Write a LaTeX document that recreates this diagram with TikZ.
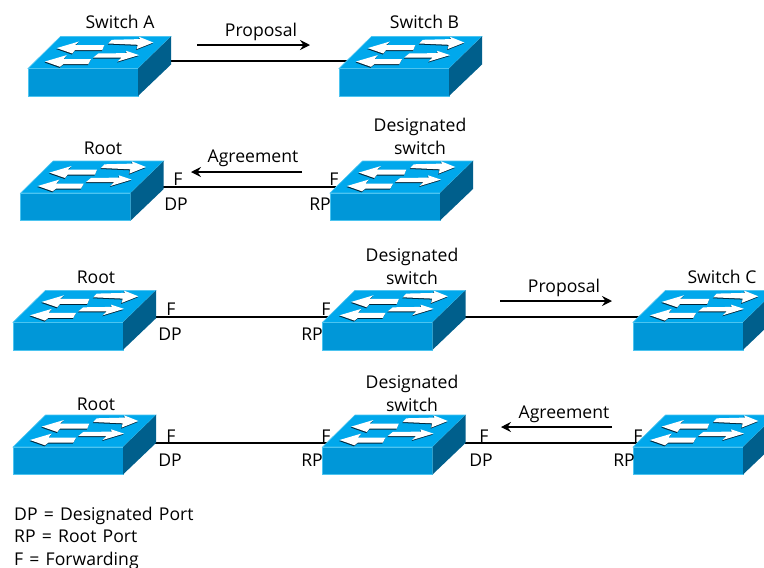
\documentclass[tikz,border=0pt]{standalone}
\usepackage{fontspec}
\setmainfont{Open Sans}
\usetikzlibrary{arrows.meta}
\definecolor{swtop}{HTML}{00A8EC}
\definecolor{swfront}{HTML}{0097D8}
\definecolor{swside}{HTML}{005F8C}
\definecolor{swedge}{HTML}{4CC4F0}
\definecolor{swshade}{HTML}{00263A}
\newcommand{\whitearr}[1]{%
  \fill[swshade,xshift=-.5pt,yshift=-1pt] #1;
  \fill[white] #1;}
\newcommand{\keytxt}[1]{\spaceskip=6.2pt\relax #1}
\tikzset{
  lbl/.style={inner sep=0pt,font=\fontsize{17.6pt}{23pt}\selectfont,align=center},
  keyline/.style={inner sep=0pt,anchor=base west,font=\fontsize{17.6pt}{23pt}\selectfont},
  link/.style={draw=black,line width=1.3pt},
  msg/.style={draw=black,line width=1.3pt,-{Stealth[length=10pt,width=10pt,inset=3.5pt]}},
  switch/.pic={
    \fill[swtop,draw=swedge,line width=.6pt] (0,0) -- (32.5,-32) -- (143,-32) -- (110,0) -- cycle;
    \fill[swfront,draw=swedge,line width=.6pt] (0,0) rectangle (110,27.5);
    \fill[swside] (110,0) -- (143,-32) -- (143,-4) -- (110,27.5) -- cycle;
    \whitearr{(83.7,-28.7) -- (112,-29.4) -- (111,-31.7) -- (125.3,-26) -- (108.7,-19.4) -- (109.7,-23.7) -- (80.3,-25) -- cycle}
    \whitearr{(70.3,-15) -- (98.7,-15.4) -- (98,-17.7) -- (111,-13.4) -- (89.7,-7) -- (93.7,-11) -- (65.3,-11) -- cycle}
    \whitearr{(28.7,-20.4) -- (51,-27) -- (47,-23.4) -- (76.3,-23.4) -- (74.3,-18.4) -- (47,-18.4) -- (44.3,-15) -- cycle}
    \whitearr{(17,-7) -- (38.7,-13.4) -- (35.5,-9.4) -- (63,-9.4) -- (60.3,-4.4) -- (35.3,-4.4) -- (32,-1.7) -- cycle}
  }
}
\begin{document}
\begin{tikzpicture}[x=1pt,y=-1pt]
\useasboundingbox (0,0) rectangle (764,568);
\clip (0,0) rectangle (764,568);
\fill[white] (0,0) rectangle (764,568);
% anchors for connector ends
\coordinate (a1r) at (171,61); \coordinate (b1l) at (348,61);
\coordinate (a2r) at (163,187); \coordinate (b2l) at (336,187);
\coordinate (a3r) at (155,317); \coordinate (b3l) at (328,317);
\coordinate (b3r) at (465,317); \coordinate (c3l) at (640,317);
\coordinate (a4r) at (155,443); \coordinate (b4l) at (330,443);
\coordinate (b4r) at (465,443); \coordinate (c4l) at (640,443);
\draw[link] (a1r) -- (b1l);
\draw[link] (a2r) -- (b2l);
\draw[link] (a3r) -- (b3l);
\draw[link] (b3r) -- (c3l);
\draw[link] (a4r) -- (b4l);
\draw[link] (b4r) -- (c4l);
\pic (swA) at (28,68.5) {switch};
\pic (swB) at (339,68.5) {switch};
\pic (r2) at (20.7,193) {switch};
\pic (d2) at (330,193) {switch};
\pic (r3) at (13,322.3) {switch};
\pic (d3) at (322.5,322.3) {switch};
\pic (c3) at (633,322.3) {switch};
\pic (r4) at (13,447) {switch};
\pic (d4) at (322.5,447) {switch};
\pic (c4) at (633,447) {switch};
% message arrows
\coordinate (m1s) at (197,45); \coordinate (m1e) at (310,45);
\coordinate (m2s) at (302,172); \coordinate (m2e) at (191,172);
\coordinate (m3s) at (500,301); \coordinate (m3e) at (612,301);
\coordinate (m4s) at (612,427); \coordinate (m4e) at (501,427);
\draw[msg] (m1s) -- (m1e);
\draw[msg] (m2s) -- (m2e);
\draw[msg] (m3s) -- (m3e);
\draw[msg] (m4s) -- (m4e);
% labels
\node[lbl] (t1) at (120,22) {Switch A};
\node[lbl] (t2) at (261,32) {Proposal};
\node[lbl] (t3) at (424.5,22) {Switch B};
\node[lbl] (t4) at (103,148) {Root};
\node[lbl] (t5) at (253,158) {Agreement};
\node[lbl] (t6) at (420,136.5) {Designated\\switch};
\node[lbl] (t7) at (178,179) {F};
\node[lbl] (t8) at (176,204) {DP};
\node[lbl] (t9) at (334,179) {F};
\node[lbl] (t10) at (320,204) {RP};
\node[lbl] (t11) at (96,277) {Root};
\node[lbl] (t12) at (171,309) {F};
\node[lbl] (t13) at (170,334) {DP};
\node[lbl] (t14) at (326,309) {F};
\node[lbl] (t15) at (312,334) {RP};
\node[lbl] (t16) at (412,266.5) {Designated\\switch};
\node[lbl] (t17) at (564,288) {Proposal};
\node[lbl] (t18) at (722,277) {Switch C};
\node[lbl] (t19) at (96,404) {Root};
\node[lbl] (t20) at (171,436) {F};
\node[lbl] (t21) at (170,460) {DP};
\node[lbl] (t22) at (326,436) {F};
\node[lbl] (t23) at (312,460) {RP};
\node[lbl] (t24) at (412,393.5) {Designated\\switch};
\node[lbl] (t25) at (484,436) {F};
\node[lbl] (t26) at (481,460) {DP};
\node[lbl] (t27) at (564,414) {Agreement};
\node[lbl] (t28) at (638,436) {F};
\node[lbl] (t29) at (624,460) {RP};
\node[keyline] (k1) at (14,520) {\keytxt{DP = Designated Port}};
\node[keyline] (k2) at (14,542.5) {\keytxt{RP = Root Port}};
\node[keyline] (k3) at (14,565) {\keytxt{F = Forwarding}};
\end{tikzpicture}
\end{document}
